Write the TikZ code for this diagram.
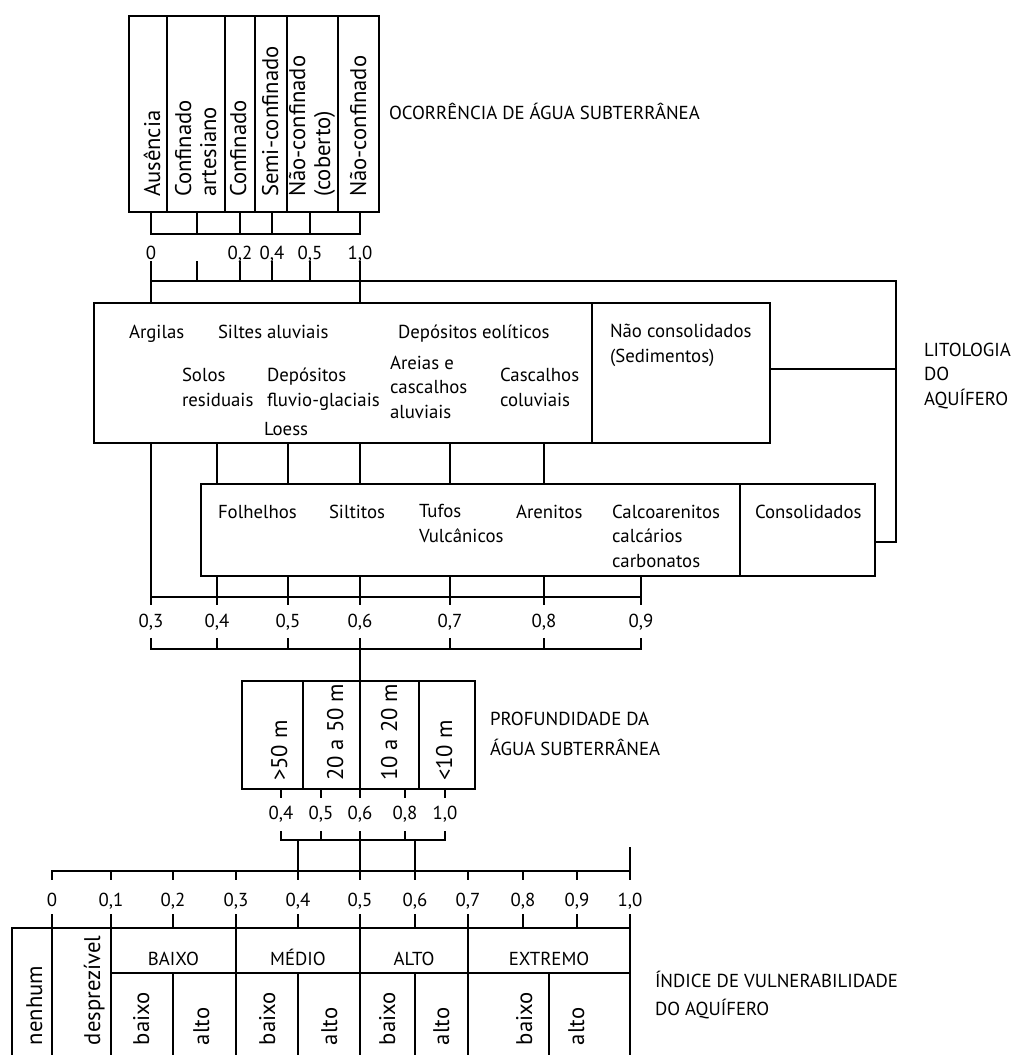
\documentclass[tikz,border=0pt]{standalone}
\usepackage{fontspec}
\setmainfont{PT Sans}
\usetikzlibrary{calc}

\begin{document}
\begin{tikzpicture}[x=0.02cm, y=-0.02cm, line width=1.15pt, line cap=rect,
  box/.style={draw, anchor=north west, inner sep=0pt, outer sep=0pt},
  txt/.style={anchor=base west, inner sep=0pt, align=left, font=\fontsize{10.7}{13.9}\selectfont},
  rtxt/.style={anchor=base west, inner sep=0pt, align=left, rotate=90, font=\fontsize{12.9}{14.2}\selectfont},
  num/.style={anchor=base, inner sep=0pt, font=\fontsize{10.7}{13}\selectfont}]

\useasboundingbox (0,0) rectangle (1014,1055);

% =================================================================================
% OCORRENCIA: the top box and its two brackets
% =================================================================================
\node[box, minimum width=5cm, minimum height=3.92cm] (occ) at (129,16) {};
\foreach \x in {167,225,255,287,338}
  \draw (\x,16) -- (\x,212);

% multi-line nodes sit on the baseline of their last line
\node[rtxt] (aus)  at (160,198) {Ausência};
\node[rtxt] (cart) at (216,198) {Confinado\\artesiano};
\node[rtxt] (conf) at (246,198) {Confinado};
\node[rtxt] (semi) at (278,198) {Semi-confinado};
\node[rtxt] (ncob) at (330,198) {Não-confinado\\(coberto)};
\node[rtxt] (ncon) at (366,198) {Não-confinado};
\node[txt]  (occt) at (388,119) {OCORRÊNCIA DE ÁGUA SUBTERRÂNEA};

\foreach \x in {151,197,240,272,310,360}
  \draw (\x,212) -- (\x,234);
\coordinate (oa) at (151,234);
\coordinate (ob) at (360,234);
\draw (oa) -- (ob);

\foreach \x/\v in {151/0, 240/{0,2}, 272/{0,4}, 310/{0,5}, 360/{1,0}}
  \node[num] (o\x) at (\x,259) {\v};

\coordinate (oc) at (151,281);
\coordinate (lr) at (896,281);
\draw (oc) -- (lr);
\foreach \x in {197,240,272,310}
  \draw (\x,262) -- (\x,281);

% =================================================================================
% LITOLOGIA: unconsolidated and consolidated boxes
% =================================================================================
\node[box, minimum width=13.52cm, minimum height=2.8cm]  (lit)  at (94,303) {};
\node[box, minimum width=13.48cm, minimum height=1.84cm] (litc) at (201,484) {};
\draw (592,303) -- (592,443);
\draw (740,484) -- (740,576);

\draw (151,262) -- (151,303);
\draw (360,262) -- (360,303);

\node[txt] (arg)   at (128,338) {Argilas};
\node[txt] (silt)  at (217,338) {Siltes aluviais};
\node[txt] (eol)   at (397,338) {Depósitos eolíticos};
\node[txt] (solo)  at (181,406) {Solos\\residuais};
\node[txt] (fluv)  at (266,406) {Depósitos\\fluvio-glaciais};
\node[txt] (loess) at (263,435) {Loess};
\node[txt] (areia) at (389,418) {Areias e\\cascalhos\\aluviais};
\node[txt] (casc)  at (499,406) {Cascalhos\\coluviais};
\node[txt] (nsed)  at (609,362) {Não consolidados\\(Sedimentos)};

\node[txt] (folh)  at (217,518) {Folhelhos};
\node[txt] (sltt)  at (328,518) {Siltitos};
\node[txt] (tufo)  at (418,542) {Tufos\\Vulcânicos};
\node[txt] (aren)  at (515,518) {Arenitos};
\node[txt] (calc)  at (611,567) {Calcoarenitos\\calcários\\carbonatos};
\node[txt] (csld)  at (754,518) {Consolidados};

\node[txt] (litt)  at (923,405) {LITOLOGIA\\DO\\AQUÍFERO};

% right-hand collector
\coordinate (rn) at (770,369);
\coordinate (rc) at (875,542);
\draw (rn) -| (lr);
\draw (rc) -| (lr);

% ties between the two boxes and the scale
\foreach \x in {217,288,360,450,544}
  \draw (\x,443) -- (\x,484);
\draw (151,443) -- (151,597);
\foreach \x in {217,288,360,450,544,641}
  \draw (\x,576) -- (\x,597);

\coordinate (la) at (151,597);
\coordinate (lb) at (641,597);
\draw (la) -- (lb);
\coordinate (lc) at (151,649);
\coordinate (ld) at (641,649);
\draw (lc) -- (ld);
\foreach \x/\v in {151/{0,3}, 217/{0,4}, 288/{0,5}, 360/{0,6}, 450/{0,7}, 544/{0,8}, 641/{0,9}} {
  \draw (\x,597) -- (\x,604);
  \node[num] (l\x) at (\x,627) {\v};
  \draw (\x,639) -- (\x,649);
}

% =================================================================================
% PROFUNDIDADE: depth box
% =================================================================================
\node[box, minimum width=4.66cm, minimum height=2.16cm] (dep) at (242,681) {};
\foreach \x in {303,360,419}
  \draw (\x,681) -- (\x,789);
\draw (360,649) -- (dep.north -| 360,0);

\node[rtxt] (d1) at (287,782) {>50 m};
\node[rtxt] (d2) at (343,782) {20 a 50 m};
\node[rtxt] (d3) at (397,782) {10 a 20 m};
\node[rtxt] (d4) at (452,782) {<10 m};
\node[txt]  (dept) at (489,755) {PROFUNDIDADE DA\\[3pt]ÁGUA SUBTERRÂNEA};

\foreach \x/\v in {281/{0,4}, 321/{0,5}, 360/{0,6}, 405/{0,8}, 445/{1,0}} {
  \draw (\x,789) -- (\x,797);
  \node[num] (p\x) at (\x,819) {\v};
  \draw (\x,832) -- (\x,840);
}
\coordinate (pa) at (281,840);
\coordinate (pb) at (445,840);
\draw (pa) -- (pb);

% =================================================================================
% INDICE: final scale and class table
% =================================================================================
\foreach \x/\v [count=\i] in {52/0, 111/{0,1}, 173/{0,2}, 236/{0,3}, 298/{0,4}, 360/{0,5},
                             415/{0,6}, 468/{0,7}, 523/{0,8}, 577/{0,9}, 630/{1,0}} {
  \coordinate (s\i) at (\x,871);
  \draw (s\i) -- ++(0,8);
  \node[num] (v\i) at (\x,906) {\v};
  \draw (\x,915) -- (\x,928);
}
\draw (s1) -- (s11);
\draw (s11) -- ++(0,-23);
\draw (298,840) -- (s5);
\draw (360,840) -- (s6);
\draw (415,840) -- (s7);

\draw (12,1055) |- (630,928) -- (630,1055);
\foreach \x in {52,111,236,360,468}
  \draw (\x,928) -- (\x,1055);
\draw (111,973) -- (630,973);
\foreach \x in {173,298,415,549}
  \draw (\x,973) -- (\x,1055);

\node[num] (baixo)   at (173.5,965) {BAIXO};
\node[num] (medio)   at (298,965)   {MÉDIO};
\node[num] (alto)    at (414,965)   {ALTO};
\node[num] (extremo) at (549,965)   {EXTREMO};

\node[rtxt] (nenh) at (42,1046)  {nenhum};
\node[rtxt] (desp) at (100,1046) {desprezível};
\foreach \x/\t in {149/baixo, 209/alto, 275/baixo, 337/alto, 395/baixo, 449/alto, 532/baixo, 584/alto}
  \node[rtxt] (c\x) at (\x,1046) {\t};

\node[txt] (indt) at (654,1015) {ÍNDICE DE VULNERABILIDADE\\[2pt]DO AQUÍFERO};

\end{tikzpicture}
\end{document}
